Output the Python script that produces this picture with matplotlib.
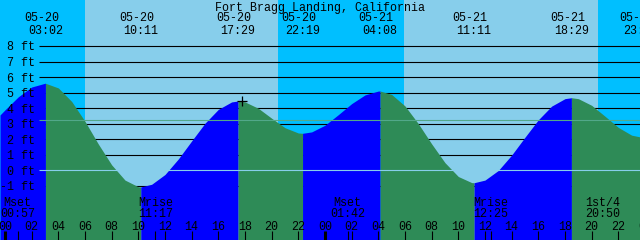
import matplotlib
matplotlib.use('Agg')
import matplotlib.pyplot as plt
import numpy as np

title = "Fort Bragg Landing, California"

# Tide level (hours from 05-20 00:00, feet)
curve_hours = [-0.375, 0, 1, 2, 3, 3.033, 4, 5, 6, 7, 8, 9, 10, 10.183,
               11, 12, 13, 14, 15, 16, 17, 17.483, 18, 19, 20, 21, 22, 22.317,
               23, 24, 25, 26, 27, 28, 28.133, 29, 30, 31, 32, 33, 34, 35, 35.183,
               36, 37, 38, 39, 40, 41, 42, 42.483, 43, 44, 45, 46, 47, 47.625]
curve_levels = [3.56, 3.89, 4.73, 5.36, 5.60, 5.60, 5.30, 4.43, 3.15, 1.69, 0.35, -0.63, -1.06, -1.07,
                -0.90, -0.27, 0.73, 1.89, 3.03, 3.92, 4.40, 4.46, 4.40, 3.99, 3.35, 2.74, 2.40, 2.38,
                2.47, 2.90, 3.58, 4.29, 4.85, 5.10, 5.10, 4.88, 4.14, 3.00, 1.70, 0.49, -0.40, -0.79, -0.80,
                -0.63, -0.01, 0.98, 2.13, 3.25, 4.13, 4.61, 4.67, 4.61, 4.18, 3.48, 2.76, 2.26, 2.15]

# High / low tide events
extreme_hours = [3.033, 10.183, 17.483, 22.317, 28.133, 35.183, 42.483, 47.7]
extreme_kind = ['H', 'L', 'H', 'L', 'H', 'L', 'H', 'L']
extreme_dates = ['05-20', '05-20', '05-20', '05-20', '05-21', '05-21', '05-21', '05-21']
extreme_times = ['03:02', '10:11', '17:29', '22:19', '04:08', '11:11', '18:29', '23:42']

# Moon events
moon_hours = [0.95, 11.283, 25.7, 36.417, 44.833]
moon_names = ['Mset', 'Mrise', 'Mset', 'Mrise', '1st/4']
moon_times = ['00:57', '11:17', '01:42', '12:25', '20:50']

# Sun
sunrise_hours = [5.98, 29.93]
sunset_hours = [20.47, 44.47]

# Level grid
level_lines = [-1, 1, 2, 3, 4, 5, 6, 7, 8]
level_labels = [-1, 0, 1, 2, 3, 4, 5, 6, 7, 8]
mean_level = 3.22
datum_level = 0

hour_ticks = list(range(0, 50, 2))
hour_tick_labels = ['%02d' % (h % 24) for h in hour_ticks]

mark_hour = 17.78
mark_level = 4.44

# ---- layout helpers (pixel -> data) ----
W, H = 640, 240
X0, PXH = 5.0, 13.333
Y0, PXF = 170.3, 15.54
def fx(px):
    return (px - X0) / PXH
def fy(py):
    return (Y0 - py) / PXF

NIGHT = '#00BFFF'
DAY = '#87CEEB'
FLOOD = '#0000FF'
EBB = '#2E8B57'

plt.rcParams['font.family'] = ['Liberation Mono', 'DejaVu Sans Mono']
FS = 8.4

fig = plt.figure(figsize=(6.4, 2.4), dpi=100)
ax = fig.add_axes([0, 0, 1, 1])
ax.set_axis_off()
xmin, xmax = fx(0), fx(W)
ybot, ytop = fy(H), fy(0)
ax.set_xlim(xmin, xmax)
ax.set_ylim(ybot, ytop)

# sky
ax.axvspan(xmin, xmax, color=NIGHT, lw=0, zorder=0)
for sr, ss in zip(sunrise_hours, sunset_hours):
    ax.axvspan(sr, ss, color=DAY, lw=0, zorder=0.5)

# level lines (behind water)
ax.hlines(level_lines, fx(39), xmax, colors='black', lw=0.8, zorder=1)

# water
t = np.array(curve_hours)
v = np.array(curve_levels)
starts = [t[0]] + extreme_hours[:-1]
for a, b, kind in zip(starts, extreme_hours, extreme_kind):
    m = (t >= a - 1e-9) & (t <= b + 1e-9)
    if m.sum() < 2:
        continue
    ax.fill_between(t[m], v[m], ybot, color=FLOOD if kind == 'H' else EBB,
                    lw=0, antialiased=False, zorder=2)

# datum and mean lines
ax.hlines([datum_level], fx(39), xmax, colors=DAY, lw=0.8, zorder=3)
ax.hlines([mean_level], fx(39), xmax, colors='#52A88A', lw=0.8, zorder=3)

# mark
ax.plot([mark_hour], [mark_level], marker='+', color='black', ms=7, mew=0.9, zorder=4)

# texts
txt = dict(fontsize=FS, color='black', zorder=5)
ax.text(fx(320), fy(6), title, ha='center', va='center_baseline', **txt)
for hx, d, tm in zip(extreme_hours, extreme_dates, extreme_times):
    ax.text(hx - 4 / PXH, fy(16.5), d, ha='center', va='center_baseline', **txt)
    ax.text(hx, fy(29.3), tm, ha='center', va='center_baseline', **txt)
for lv in level_labels:
    ax.text(fx(35.5), lv, '%d ft' % lv, ha='right', va='center_baseline', **txt)
for mh, mn, mt in zip(moon_hours, moon_names, moon_times):
    ax.text(mh, fy(201.7), mn, ha='center', va='center_baseline', **txt)
    ax.text(mh, fy(212.7), mt, ha='center', va='center_baseline', **txt)
for hh, lab in zip(hour_ticks, hour_tick_labels):
    ax.text(hh, fy(225.5), lab, ha='center', va='center_baseline', **txt)

# ticks
tick_top = fy(231)
for hh in hour_ticks:
    ax.vlines(hh, ybot, tick_top, colors='black', lw=2.2 if hh % 24 == 0 else 0.8, zorder=4)
for mh in moon_hours[:4]:
    ax.vlines(mh, ybot, tick_top, colors='black', lw=0.8, zorder=4)

fig.savefig('out.png', dpi=100)
